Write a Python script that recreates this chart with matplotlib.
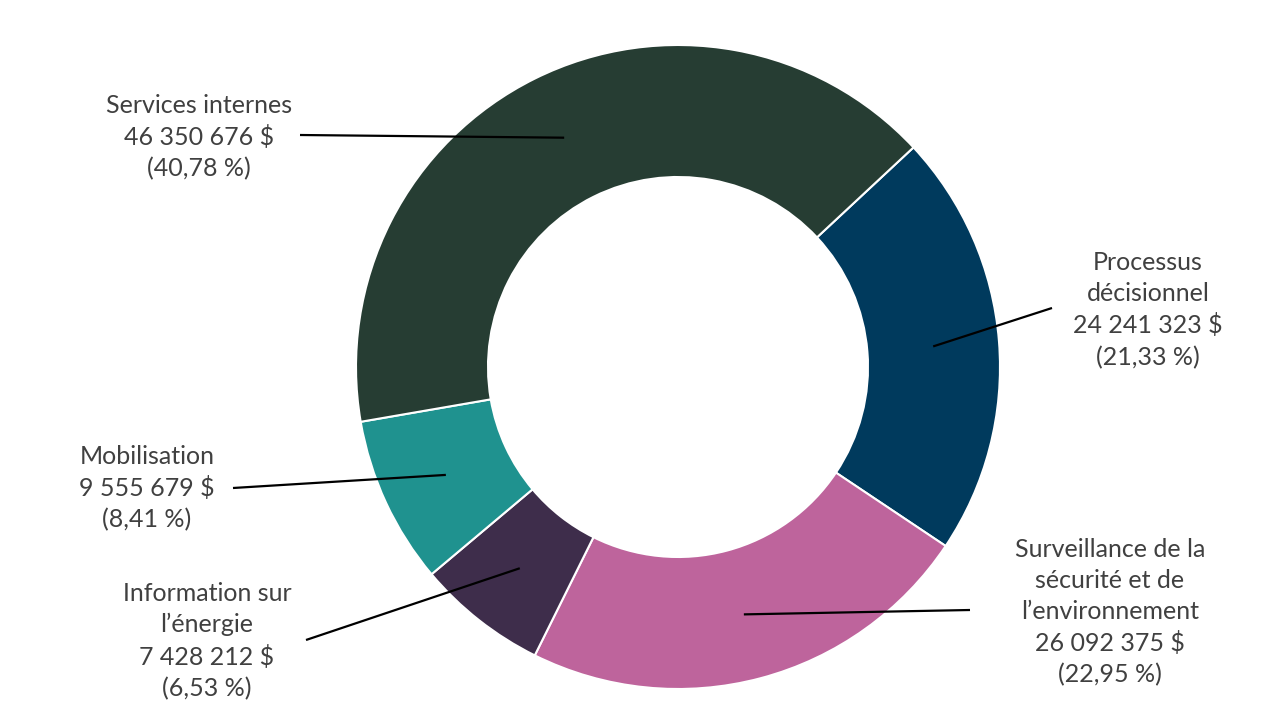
import numpy as np
import matplotlib
matplotlib.use("Agg")
import matplotlib.pyplot as plt

# ---- data ----
categories = ["Processus\ndécisionnel",
              "Surveillance de la\nsécurité et de\nl\u2019environnement",
              "Information sur\nl\u2019énergie",
              "Mobilisation",
              "Services internes"]
values = [24241323, 26092375, 7428212, 9555679, 46350676]
colors = ["#003A5D", "#BE649C", "#3E2D4B", "#1F928F", "#263D33"]

# ---- layout (pixel coordinates, y up) ----
W, H = 1280, 720
cx, cy = 678, H - 367
R_out, R_in = 322, 190
label_pos = [(1148, H - 310), (1110, H - 612), (207, H - 641), (147, H - 488), (199, H - 137)]
line_end = [(1052, H - 308), (970, H - 610), (306, H - 640), (233, H - 488), (300, H - 135)]

plt.rcParams['font.family'] = ['Lato', 'DejaVu Sans']
fig = plt.figure(figsize=(12.8, 7.2), dpi=100)
ax = fig.add_axes([0, 0, 1, 1])

wedges, _ = ax.pie(values, radius=R_out, center=(cx, cy), startangle=43,
                   counterclock=False, colors=colors,
                   wedgeprops=dict(width=R_out - R_in, edgecolor='white', linewidth=1.5))
ax.set_xlim(0, W)
ax.set_ylim(0, H)
ax.set_aspect('auto')
ax.axis('off')

total = sum(values)

def fmt_num(v):
    return f"{v:,}".replace(",", " ")

r_mid = (R_out + R_in) / 2
for w, cat, v, (tx, ty), (ex, ey) in zip(wedges, categories, values, label_pos, line_end):
    th = np.deg2rad((w.theta1 + w.theta2) / 2)
    sx, sy = cx + r_mid * np.cos(th), cy + r_mid * np.sin(th)
    ax.plot([sx, ex], [sy, ey], color='black', lw=1.6, solid_capstyle='butt')
    pct = f"{100 * v / total:.2f}".replace(".", ",")
    txt = f"{cat}\n{fmt_num(v)} $\n({pct} %)"
    ax.text(tx, ty, txt, ha='center', va='center', multialignment='center',
            fontsize=18, color='#404040', linespacing=1.42)

fig.savefig("out.png", dpi=100)
